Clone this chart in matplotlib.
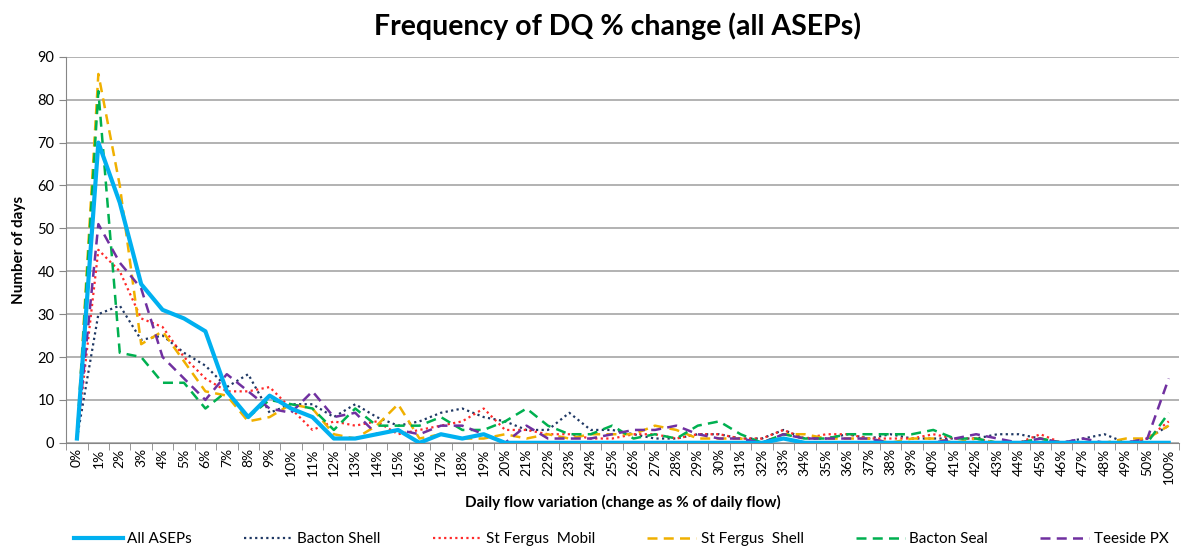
import numpy as np
import matplotlib.pyplot as plt

plt.rcParams['font.family'] = ['Lato', 'DejaVu Sans']

categories = [f"{i}%" for i in range(51)] + ["100%"]

all_aseps = [1, 70, 56, 37, 31, 29, 26, 12, 6, 11, 8, 6, 1, 1, 2, 3, 0, 2, 1, 2,
             0, 0, 0, 0, 0, 0, 0, 0, 0, 0, 0, 0, 0, 1, 0, 0, 0, 0, 0, 0,
             0, 0, 0, 0, 0, 0, 0, 0, 0, 0, 0, 0]
bacton_shell = [1, 30, 32, 24, 25, 21, 18, 13, 16, 7, 9, 9, 6, 9, 6, 4, 5, 7, 8, 6,
                5, 3, 3, 7, 3, 3, 2, 1, 1, 2, 2, 1, 1, 3, 1, 1, 2, 1, 2, 1,
                1, 1, 1, 2, 2, 1, 0, 1, 2, 0, 1, 4]
st_fergus_mobil = [1, 45, 40, 29, 27, 20, 15, 12, 12, 13, 8, 3, 5, 4, 5, 2, 3, 4, 5, 8,
                   3, 3, 2, 2, 1, 1, 2, 2, 1, 2, 2, 1, 1, 3, 1, 2, 2, 1, 1, 1,
                   2, 1, 1, 0, 0, 2, 0, 0, 0, 0, 1, 5]
st_fergus_shell = [1, 86, 60, 23, 26, 19, 12, 11, 5, 6, 9, 8, 2, 1, 4, 9, 1, 2, 1, 1,
                   2, 1, 2, 1, 2, 2, 2, 4, 3, 1, 1, 1, 0, 2, 2, 1, 1, 1, 0, 1,
                   1, 0, 1, 0, 0, 1, 0, 0, 0, 1, 1, 4]
bacton_seal = [1, 82, 21, 20, 14, 14, 8, 12, 6, 10, 9, 8, 3, 8, 4, 4, 4, 6, 3, 3,
               5, 8, 4, 2, 2, 4, 1, 2, 1, 4, 5, 2, 0, 2, 1, 1, 2, 2, 2, 2,
               3, 1, 1, 0, 0, 1, 0, 0, 0, 0, 0, 7]
teeside_px = [1, 51, 42, 36, 20, 15, 10, 16, 12, 8, 7, 12, 6, 7, 2, 3, 2, 4, 4, 2,
              0, 4, 1, 1, 1, 2, 3, 3, 4, 2, 1, 1, 0, 2, 1, 1, 1, 1, 0, 0,
              0, 1, 2, 1, 0, 1, 0, 1, 0, 0, 1, 15]

x = np.arange(len(categories))

fig = plt.figure(figsize=(11.83, 5.57), dpi=100)
ax = fig.add_axes([0.056, 0.205, 0.941, 0.693])

ax.plot(x, all_aseps, color="#00B0F0", lw=3.0, label="All ASEPs", zorder=6)
ax.plot(x, bacton_shell, color="#1F3864", lw=1.6, ls=(0, (1, 1.5)), label="Bacton Shell")
ax.plot(x, st_fergus_mobil, color="#FF2A2A", lw=1.6, ls=(0, (1, 1.5)), label="St Fergus  Mobil")
ax.plot(x, st_fergus_shell, color="#F0B000", lw=1.8, ls=(0, (4, 2.5)), label="St Fergus  Shell")
ax.plot(x, bacton_seal, color="#00B050", lw=1.8, ls=(0, (4, 2.5)), label="Bacton Seal")
ax.plot(x, teeside_px, color="#7030A0", lw=1.8, ls=(0, (4, 2.5)), label="Teeside PX")

ax.set_xlim(-0.5, len(categories) - 0.5)
ax.set_ylim(0, 90)
ax.set_yticks(range(0, 91, 10))
ax.yaxis.grid(True, color="#A6A6A6", lw=1.2)
ax.set_axisbelow(True)

ax.set_xticks(x)
ax.set_xticklabels(categories, rotation=90, fontsize=10)
ax.set_xticks(np.arange(-0.5, len(categories), 1), minor=True)
ax.tick_params(axis="x", which="major", length=0, pad=4)
ax.tick_params(axis="x", which="minor", length=5, color="#868686")
ax.tick_params(axis="y", labelsize=10.5, length=5, color="#868686")

for s in ["top", "right"]:
    ax.spines[s].set_visible(False)
ax.spines["left"].set_color("#868686")
ax.spines["bottom"].set_color("#868686")

ax.set_ylabel("Number of days", fontsize=11, fontweight="bold", labelpad=8)
ax.set_xlabel("Daily flow variation (change as % of daily flow)", fontsize=11,
              fontweight="bold", labelpad=8)
fig.suptitle("Frequency of DQ % change (all ASEPs)", fontsize=20.5, fontweight="bold",
             x=0.522, y=0.978)

fig.legend(loc="lower center", bbox_to_anchor=(0.525, -0.005), ncol=6, frameon=False,
           fontsize=11, handlelength=3.2, handletextpad=0.3, columnspacing=3.4)

fig.savefig("out.png", dpi=100)
